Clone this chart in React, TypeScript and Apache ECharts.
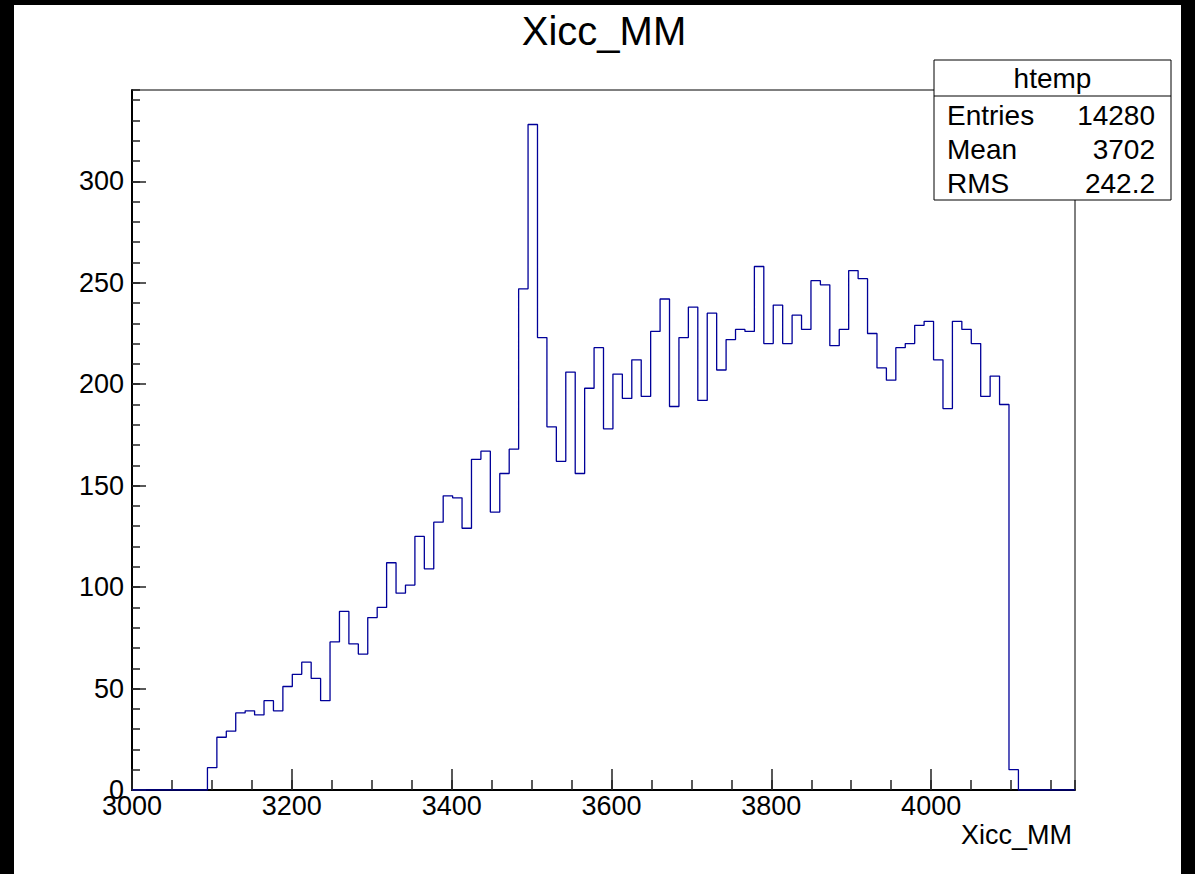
import React, { useEffect, useRef } from "react";
import * as echarts from "echarts";

// ---- data ----
const X_MIN = 3000;
const X_MAX = 4180;
const N_BINS = 100;
const Y_MAX = 345;
const COUNTS = [
  0, 0, 0, 0, 0, 0, 0, 0,
  11, 26, 29, 38, 39, 37, 44, 39, 51, 57, 63, 55, 44, 73,
  88, 72, 67, 85, 90, 112, 97, 101, 125, 109, 132, 145, 144, 129, 163, 167, 137,
  156, 168, 247, 328, 223, 179, 162, 206, 156, 198, 218, 178, 205,
  193, 212, 194, 226, 242, 189, 223, 238, 192, 235, 207, 222, 227, 226, 258, 220, 239, 220,
  234, 227, 251, 249, 219, 227, 256, 252, 225, 208, 202, 218, 220, 229, 231, 212, 188, 231, 227, 220, 194, 204, 190, 10,
  0, 0, 0, 0, 0, 0,
];
const TITLE = "Xicc_MM";
const X_TITLE = "Xicc_MM";
const STATS_NAME = "htemp";
const STATS_LABELS = ["Entries", "Mean", "RMS"];
const STATS_VALUES = ["14280", "3702", "242.2"];

const FONT = "'Liberation Sans', Arial, Helvetica, sans-serif";
const LINE_COLOR = "#000099";

export default function App() {
  const ref = useRef<HTMLDivElement>(null);

  useEffect(() => {
    if (!ref.current) return;
    const chart = echarts.init(ref.current, null, { renderer: "svg" });

    const binW = (X_MAX - X_MIN) / N_BINS;
    const stepData: [number, number][] = COUNTS.map((c, i) => [X_MIN + i * binW, c]);
    stepData.push([X_MAX, COUNTS[COUNTS.length - 1]]);

    const gridLeft = 118;
    const gridTop = 85;
    const gridW = 943;
    const gridH = 700;

    const boxX = 920, boxY = 55, boxW = 237, boxH = 140;
    const rowYs = [110, 144, 178];

    const statsElems: any[] = [
      {
        type: "rect",
        shape: { x: boxX, y: boxY, width: boxW, height: boxH },
        style: { fill: "#fff", stroke: "#000", lineWidth: 1 },
        z: 100,
      },
      {
        type: "line",
        shape: { x1: boxX, y1: 91, x2: boxX + boxW, y2: 91 },
        style: { stroke: "#000", lineWidth: 1 },
        z: 101,
      },
      {
        type: "text",
        x: boxX + boxW / 2,
        y: 73,
        style: { text: STATS_NAME, font: `28px ${FONT}`, fill: "#000", textAlign: "center", textVerticalAlign: "middle" },
        z: 101,
      },
    ];
    STATS_LABELS.forEach((lab, i) => {
      statsElems.push({
        type: "text",
        x: 933,
        y: rowYs[i],
        style: { text: lab, font: `28px ${FONT}`, fill: "#000", textAlign: "left", textVerticalAlign: "middle" },
        z: 101,
      });
      statsElems.push({
        type: "text",
        x: 1141,
        y: rowYs[i],
        style: { text: STATS_VALUES[i], font: `28px ${FONT}`, fill: "#000", textAlign: "right", textVerticalAlign: "middle" },
        z: 101,
      });
    });

    const axisCommon = {
      type: "value" as const,
      splitLine: { show: false },
    };
    const plain = (v: number) => String(v);

    chart.setOption({
      animation: false,
      backgroundColor: "#fff",
      grid: {
        left: gridLeft,
        top: gridTop,
        width: gridW,
        height: gridH,
        show: true,
        borderColor: "#000",
        borderWidth: 1,
        containLabel: false,
      },
      xAxis: [
        {
          ...axisCommon,
          min: X_MIN,
          max: X_MAX,
          interval: 200,
          position: "bottom",
          axisLine: { show: true, onZero: false, lineStyle: { color: "#000", width: 2 } },
          axisTick: { show: true, inside: true, length: 21, lineStyle: { color: "#222", width: 1.5 } },
          axisLabel: {
            show: true,
            fontSize: 27,
            fontFamily: FONT,
            color: "#000",
            margin: 2,
            showMaxLabel: false,
            formatter: plain,
          },
        },
        {
          ...axisCommon,
          min: X_MIN,
          max: X_MAX,
          interval: 50,
          position: "bottom",
          axisLine: { show: false, onZero: false },
          axisTick: { show: true, inside: true, length: 10, lineStyle: { color: "#222", width: 1.5 } },
          axisLabel: { show: false },
        },
      ],
      yAxis: [
        {
          ...axisCommon,
          min: 0,
          max: Y_MAX,
          interval: 50,
          position: "left",
          axisLine: { show: true, onZero: false, lineStyle: { color: "#000", width: 2 } },
          axisTick: { show: true, inside: true, length: 14, lineStyle: { color: "#222", width: 1.5 } },
          axisLabel: {
            show: true,
            fontSize: 27,
            fontFamily: FONT,
            color: "#000",
            margin: 8,
            showMaxLabel: false,
            formatter: plain,
          },
        },
        {
          ...axisCommon,
          min: 0,
          max: Y_MAX,
          interval: 10,
          position: "left",
          axisLine: { show: false, onZero: false },
          axisTick: { show: true, inside: true, length: 8, lineStyle: { color: "#222", width: 1.5 } },
          axisLabel: { show: false },
        },
      ],
      series: [
        {
          type: "line",
          xAxisIndex: 0,
          yAxisIndex: 0,
          step: "end",
          data: stepData,
          symbol: "none",
          lineStyle: { color: LINE_COLOR, width: 1.3 },
          z: 5,
        },
      ],
      graphic: [
        {
          type: "text",
          x: 590,
          y: 26,
          style: { text: TITLE, font: `40px ${FONT}`, fill: "#000", textAlign: "center", textVerticalAlign: "middle" },
          z: 100,
        },
        {
          type: "text",
          x: 1058,
          y: 830,
          style: { text: X_TITLE, font: `27px ${FONT}`, fill: "#000", textAlign: "right", textVerticalAlign: "middle" },
          z: 100,
        },
        ...statsElems,
      ],
    });

    return () => chart.dispose();
  }, []);

  return (
    <div style={{ position: "absolute", left: 0, top: 0, width: 1195, height: 874, background: "#000", overflow: "hidden" }}>
      <div
        ref={ref}
        style={{ position: "absolute", left: 14, top: 5, width: 1167, height: 869, background: "#fff" }}
      />
    </div>
  );
}
